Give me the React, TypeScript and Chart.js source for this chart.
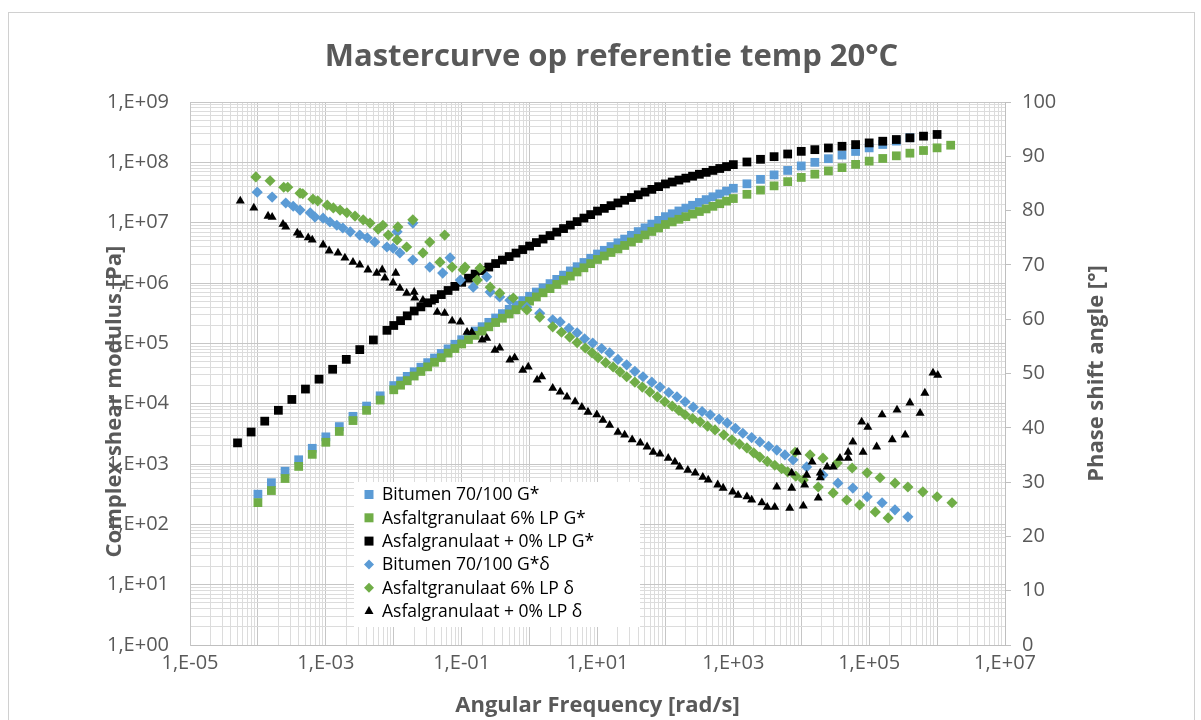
import React, { useEffect, useRef } from 'react';
import { Chart, registerables } from 'chart.js';

Chart.register(...registerables);

const FONT = '"Open Sans", "Liberation Sans", sans-serif';
const GREY = '#595959';
const BLUE = '#5B9BD5';
const GREEN = '#70AD47';
const BLACK = '#000000';

const chartTitle = 'Mastercurve op referentie temp 20°C';
const xAxisTitle = 'Angular Frequency [rad/s]';
const leftAxisTitle = 'Complex shear modulus [Pa]';
const rightAxisTitle = 'Phase shift angle [°]';

const seriesLabels = [
  'Bitumen 70/100 G*',
  'Asfaltgranulaat 6% LP G*',
  'Asfalgranulaat + 0% LP G*',
  'Bitumen 70/100 G*δ',
  'Asfaltgranulaat 6% LP δ',
  'Asfalgranulaat + 0% LP δ',
];

const xTickLabels = ['1,E-05', '1,E-03', '1,E-01', '1,E+01', '1,E+03', '1,E+05', '1,E+07'];
const yTickLabels = ['1,E+00', '1,E+01', '1,E+02', '1,E+03', '1,E+04', '1,E+05', '1,E+06', '1,E+07', '1,E+08', '1,E+09'];
const y1TickValues = [0, 10, 20, 30, 40, 50, 60, 70, 80, 90, 100];

// angular frequency [rad/s] for the two G* mastercurves
const gStarFreq = [
  1e-4, 1.58e-4, 2.51e-4, 3.98e-4, 6.31e-4, 1e-3, 1.58e-3, 2.51e-3, 3.98e-3, 6.31e-3,
  0.01, 0.0126, 0.0158, 0.02, 0.0251, 0.0316, 0.0398, 0.0501, 0.0631, 0.0794,
  0.1, 0.126, 0.158, 0.2, 0.251, 0.316, 0.398, 0.501, 0.631, 0.794,
  1, 1.26, 1.58, 2, 2.51, 3.16, 3.98, 5.01, 6.31, 7.94,
  10, 12.6, 15.8, 20, 25.1, 31.6, 39.8, 50.1, 63.1, 79.4,
  100, 126, 158, 200, 251, 316, 398, 501, 631, 794,
  1000, 1585, 2512, 3981, 6310, 1e4, 1.585e4, 2.512e4, 3.981e4, 6.31e4,
  1e5, 1.585e5, 2.512e5, 3.981e5, 6.31e5, 1e6, 1.585e6,
];

const bitumenGStar = [
  316, 490, 759, 1175, 1820, 2818, 4169, 6166, 9120, 13490,
  19950, 23770, 28310, 33730, 40180, 47860, 57020, 67920, 80910, 96380,
  114800, 135500, 160000, 188800, 222800, 263000, 310500, 366400, 432500, 510500,
  602600, 707900, 831800, 977200, 1.148e6, 1.349e6, 1.585e6, 1.862e6, 2.188e6, 2.57e6,
  3.02e6, 3.483e6, 4.018e6, 4.634e6, 5.346e6, 6.166e6, 7.112e6, 8.204e6, 9.462e6, 1.091e7,
  1.259e7, 1.403e7, 1.563e7, 1.742e7, 1.941e7, 2.163e7, 2.41e7, 2.685e7, 2.992e7, 3.334e7,
  3.715e7, 4.406e7, 5.224e7, 6.194e7, 7.345e7, 8.71e7, 1.0e8, 1.148e8, 1.318e8, 1.514e8,
  1.738e8, 1.977e8, 2.249e8, 2.559e8,
];

const asfalt6GStar = [
  229, 363, 575, 912, 1445, 2291, 3467, 5248, 7762, 11480,
  16980, 20230, 24100, 28710, 34200, 40740, 48530, 57810, 68870, 82040,
  97720, 115100, 135500, 159600, 187900, 221300, 260600, 306900, 361400, 425600,
  501200, 587500, 688700, 807200, 946200, 1.109e6, 1.3e6, 1.524e6, 1.786e6, 2.094e6,
  2.455e6, 2.805e6, 3.206e6, 3.664e6, 4.188e6, 4.786e6, 5.47e6, 6.252e6, 7.145e6, 8.166e6,
  9.333e6, 1.03e7, 1.138e7, 1.256e7, 1.387e7, 1.531e7, 1.69e7, 1.866e7, 2.061e7, 2.275e7,
  2.512e7, 2.951e7, 3.467e7, 4.074e7, 4.786e7, 5.623e7, 6.368e7, 7.211e7, 8.166e7, 9.247e7,
  1.047e8, 1.159e8, 1.282e8, 1.419e8, 1.57e8, 1.738e8, 1.923e8,
];

const asfalt0Freq = [
  5.01e-5, 7.94e-5, 1.26e-4, 2.0e-4, 3.16e-4, 5.01e-4, 7.94e-4, 1.26e-3, 2.0e-3, 3.16e-3, 5.01e-3, 7.94e-3,
  0.01, 0.0126, 0.0158, 0.02, 0.0251, 0.0316, 0.0398, 0.0501, 0.0631, 0.0794,
  0.1, 0.126, 0.158, 0.2, 0.251, 0.316, 0.398, 0.501, 0.631, 0.794,
  1, 1.26, 1.58, 2, 2.51, 3.16, 3.98, 5.01, 6.31, 7.94,
  10, 12.6, 15.8, 20, 25.1, 31.6, 39.8, 50.1, 63.1, 79.4,
  100, 126, 158, 200, 251, 316, 398, 501, 631, 794,
  1000, 1585, 2512, 3981, 6310, 1e4, 1.585e4, 2.512e4, 3.981e4, 6.31e4,
  1e5, 1.585e5, 2.512e5, 3.981e5, 6.31e5, 1e6,
];

const asfalt0GStar = [
  2239, 3388, 5129, 7762, 11750, 17460, 25470, 37150, 54200, 78700, 113800, 164400,
  197700, 237700, 285800, 343600, 401800, 469900, 549500, 642700, 751600, 879000,
  1.028e6, 1.202e6, 1.406e6, 1.607e6, 1.837e6, 2.099e6, 2.399e6, 2.742e6, 3.133e6, 3.581e6,
  4.093e6, 4.677e6, 5.346e6, 6.109e6, 6.982e6, 7.98e6, 9.12e6, 1.042e7, 1.191e7, 1.361e7,
  1.556e7, 1.726e7, 1.914e7, 2.123e7, 2.355e7, 2.612e7, 2.897e7, 3.214e7, 3.565e7, 3.954e7,
  4.385e7, 4.721e7, 5.082e7, 5.47e7, 5.888e7, 6.339e7, 6.823e7, 7.345e7, 7.907e7, 8.511e7,
  9.162e7, 1.014e8, 1.122e8, 1.242e8, 1.374e8, 1.521e8, 1.622e8, 1.73e8, 1.845e8, 1.968e8,
  2.099e8, 2.239e8, 2.388e8, 2.547e8, 2.716e8, 2.897e8,
];

const bitumenDeltaFreq = [
  9.77e-5, 1.62e-4, 2.57e-4, 4.17e-4, 6.92e-4, 1.15e-3, 1.78e-3, 3.16e-3, 5.25e-3, 7.94e-3,
  1.23e-2, 1.91e-2, 3.39e-2, 5.25e-2, 9.55e-2, 0.148, 0.263, 0.363, 0.513, 0.912,
  1.41, 2.19, 2.82, 5.01, 8.51, 15.1, 26.9, 46.8, 83.2, 148,
  257, 457, 813, 1380, 2455, 4365, 7586, 12020, 20890, 34670,
  57540, 93330, 154900, 239900, 371500,
  0.0112, 0.0191, 0.0676, 0.234,
  3.31e-4, 5.89e-4, 9.12e-4, 1.45e-3, 2.29e-3, 4.07e-3, 9.77e-3,
  3.8, 6.46, 11.5, 20.0, 35.5, 63.1, 112, 195, 347, 617, 1072, 1862, 3311, 5754,
];
const bitumenDelta = [
  83.4, 82.5, 81.4, 80.1, 78.8, 77.9, 76.8, 75.5, 74.2, 73.3,
  72.2, 70.9, 69.6, 68.5, 67.2, 65.9, 65.0, 64.1, 63.5, 62.2,
  61.1, 59.9, 59.5, 57.5, 55.6, 53.8, 51.6, 49.4, 47.5, 45.7,
  43.8, 42.4, 40.9, 39.0, 37.4, 35.9, 34.1, 32.8, 31.3, 29.8,
  28.9, 27.3, 26.2, 24.9, 23.6,
  76.1, 77.7, 71.3, 67.8,
  80.8, 79.6, 78.6, 77.3, 76.1, 75.0, 73.1,
  58.3, 56.4, 54.6, 52.6, 50.4, 48.4, 46.5, 44.8, 43.0, 41.6, 39.9, 38.2, 36.6, 35.0,
];

const asfalt6DeltaFreq = [
  9.33e-5, 1.51e-4, 2.4e-4, 2.75e-4, 4.17e-4, 6.46e-4, 1.05e-3, 1.62e-3, 2.69e-3, 4.47e-3,
  8.32e-3, 1.12e-2, 1.55e-2, 2.69e-2, 4.79e-2, 7.24e-2, 0.105, 0.17, 0.263, 0.363,
  0.575, 0.912, 1.41, 2.19, 3.89, 6.61, 10.2, 17.0, 26.9, 45.7,
  75.9, 126, 195, 324, 537, 955, 1585, 2455, 4074, 6310,
  10720, 17780, 29510, 46770, 72440, 123000, 190500,
  8128, 13490, 20890, 33880, 56230, 93330, 144500, 239900, 371500, 616600, 1e6, 1.66e6,
  6.92e-3, 1.15e-2, 1.91e-2, 5.62e-2, 3.39e-2, 0.112, 0.186,
  4.57e-4, 7.59e-4, 1.29e-3, 2.04e-3, 3.55e-3, 5.89e-3,
  2.95, 5.01, 8.32, 13.2, 21.4, 35.5, 58.9, 97.7, 158, 251, 417, 724, 1230, 1995, 3162, 5129, 8318,
];
const asfalt6Delta = [
  86.2, 85.5, 84.3, 84.3, 83.2, 82.1, 81.0, 80.1, 79.0, 77.7,
  75.5, 74.6, 73.3, 72.2, 70.5, 69.6, 69.1, 67.2, 65.9, 64.8,
  63.9, 61.7, 60.4, 58.6, 56.7, 54.7, 52.9, 51.2, 49.4, 47.5,
  45.7, 44.0, 42.4, 41.1, 39.6, 37.8, 36.3, 34.6, 33.1, 31.9,
  30.4, 29.1, 28.0, 26.7, 25.8, 24.5, 23.4,
  35.5, 35.0, 34.4, 33.5, 32.6, 31.7, 30.8, 29.8, 29.1, 28.2, 27.3, 26.2,
  77.3, 77.0, 78.3, 75.5, 74.2, 69.6, 69.4,
  83.1, 81.8, 80.5, 79.6, 78.3, 76.6,
  57.6, 55.7, 53.8, 52.0, 50.3, 48.4, 46.6, 44.8, 43.2, 41.7, 40.3, 38.7, 37.0, 35.4, 33.8, 32.5, 31.1,
];

const asfalt0DeltaFreq = [
  5.5e-5, 8.71e-5, 1.41e-4, 1.62e-4, 2.34e-4, 2.57e-4, 3.8e-4, 4.17e-4, 5.5e-4, 6.31e-4,
  9.12e-4, 1.12e-3, 1.51e-3, 1.91e-3, 2.51e-3, 3.16e-3, 4.17e-3, 5.62e-3, 7.41e-3, 9.77e-3,
  1.23e-2, 1.55e-2, 2.04e-2, 2.69e-2, 3.63e-2, 4.37e-2, 5.62e-2, 7.24e-2, 9.55e-2, 0.12,
  0.141, 0.2, 0.234, 0.309, 0.363, 0.513, 0.603, 0.794, 0.955, 1.29,
  1.51, 2.19, 2.82, 3.55, 4.68, 5.89, 7.24, 9.77, 12.0, 15.1,
  20.0, 25.1, 32.4, 42.7, 53.7, 66.1, 83.2, 110, 138, 162,
  214, 275, 355, 427, 589, 708, 977, 1175, 1585, 1862,
  2630, 3162, 4074, 6761, 10720, 17780, 4365, 7244, 11220, 7244,
  12020, 19050, 19050, 8710, 14450, 23990, 29510, 37150, 48980, 48980,
  81280, 57540, 128800, 77620, 95500, 154900, 218800, 257000, 338800, 398100,
  562300, 660700, 871000, 1.023e6,
  6.76e-3, 1.07e-2, 2.0e-2,
];
const asfalt0Delta = [
  81.8, 80.5, 79.0, 78.8, 77.5, 77.0, 75.9, 75.5, 75.0, 74.6,
  73.7, 72.6, 72.2, 71.3, 70.5, 70.0, 69.1, 68.5, 67.6, 66.7,
  65.7, 64.8, 63.9, 63.5, 63.2, 61.3, 61.1, 59.7, 59.5, 57.6,
  57.6, 56.2, 56.5, 54.3, 54.7, 52.5, 52.9, 50.6, 51.2, 48.8,
  49.4, 47.3, 46.6, 45.7, 44.8, 43.8, 42.9, 42.4, 41.4, 40.5,
  39.2, 38.7, 37.8, 37.2, 36.5, 35.5, 35.2, 34.4, 33.7, 32.8,
  32.2, 31.7, 30.9, 30.4, 29.5, 28.9, 28.2, 27.6, 27.3, 26.7,
  26.2, 25.4, 25.4, 25.2, 25.6, 27.1, 29.1, 28.9, 29.5, 31.7,
  31.3, 30.8, 31.7, 35.5, 33.7, 32.8, 32.8, 34.4, 34.4, 35.5,
  35.5, 37.4, 36.5, 41.1, 40.1, 42.4, 37.8, 43.3, 38.7, 44.6,
  42.7, 46.4, 50.1, 49.7,
  69.1, 68.5, 65.0,
];

const toPoints = (xs: number[], ys: number[]) => ys.map((y, i) => ({ x: xs[i], y }));

const expLabel = (e: number) => `1,E${e < 0 ? '-' : '+'}${String(Math.abs(e)).padStart(2, '0')}`;

const decadeExp = (v: number): number | null => {
  const e = Math.round(Math.log10(v));
  return Math.abs(v / Math.pow(10, e) - 1) < 1e-6 ? e : null;
};

const logTicks = (fromExp: number, toExp: number) => {
  const t: { value: number }[] = [];
  for (let e = fromExp; e < toExp; e++) {
    for (let m = 1; m < 10; m++) t.push({ value: m * Math.pow(10, e) });
  }
  t.push({ value: Math.pow(10, toExp) });
  return t;
};

const gridColor = (ctx: any) => {
  const v = ctx && ctx.tick ? ctx.tick.value : null;
  if (v == null) return '#D9D9D9';
  return decadeExp(v) !== null ? '#C6C6C6' : '#DCDCDC';
};

const drawMarker = (ctx: CanvasRenderingContext2D, style: string, x: number, y: number, color: string) => {
  ctx.fillStyle = color;
  ctx.beginPath();
  if (style === 'rect') {
    ctx.rect(x - 4.5, y - 4.5, 9, 9);
  } else if (style === 'rectRot') {
    ctx.moveTo(x - 5, y);
    ctx.lineTo(x, y - 5);
    ctx.lineTo(x + 5, y);
    ctx.lineTo(x, y + 5);
    ctx.closePath();
  } else {
    ctx.moveTo(x, y - 5);
    ctx.lineTo(x + 4.5, y + 3);
    ctx.lineTo(x - 4.5, y + 3);
    ctx.closePath();
  }
  ctx.fill();
};

const AXIS_TITLE_FONT = `bold 22px ${FONT}`;

const framePlugin = {
  id: 'frame',
  beforeDraw(chart: any) {
    const { ctx, width, height } = chart;
    ctx.save();
    ctx.fillStyle = '#FFFFFF';
    ctx.fillRect(0, 0, width, height);
    ctx.strokeStyle = '#D0D0D0';
    ctx.lineWidth = 1;
    ctx.strokeRect(8.5, 12.5, 1186, height);
    ctx.restore();
  },
};

// vertical axis titles, both reading bottom-to-top as in the reference
const sideTitlesPlugin = {
  id: 'sideTitles',
  afterDraw(chart: any) {
    const { ctx, chartArea } = chart;
    const mid = (chartArea.top + chartArea.bottom) / 2;
    ctx.save();
    ctx.font = AXIS_TITLE_FONT;
    ctx.fillStyle = GREY;
    ctx.textAlign = 'center';
    ctx.textBaseline = 'middle';
    ctx.save();
    ctx.translate(chartArea.left - 75, mid + 28);
    ctx.rotate(-Math.PI / 2);
    ctx.fillText(leftAxisTitle, 0, 0);
    ctx.restore();
    ctx.save();
    ctx.translate(chartArea.right + 92, mid);
    ctx.rotate(-Math.PI / 2);
    ctx.fillText(rightAxisTitle, 0, 0);
    ctx.restore();
    ctx.restore();
  },
};

const insideLegendPlugin = {
  id: 'insideLegend',
  afterDraw(chart: any) {
    const { ctx, chartArea } = chart;
    const bx = chartArea.left + 164;
    const by = chartArea.top + 380;
    const bw = 286;
    const bh = 145;
    ctx.save();
    ctx.fillStyle = '#FFFFFF';
    ctx.fillRect(bx, by, bw, bh);
    ctx.font = `17.5px ${FONT}`;
    ctx.textAlign = 'left';
    ctx.textBaseline = 'middle';
    chart.data.datasets.forEach((ds: any, i: number) => {
      const y = by + 12.5 + i * 23.3;
      drawMarker(ctx, ds.pointStyle, bx + 15, y, ds.backgroundColor);
      ctx.fillStyle = '#000000';
      ctx.fillText(ds.label, bx + 28, y + 1);
    });
    ctx.restore();
  },
};

export default function App() {
  const canvasRef = useRef<HTMLCanvasElement | null>(null);

  useEffect(() => {
    if (!canvasRef.current) return;
    const tickFont = { family: FONT, size: 20 };
    const titleFont = { family: FONT, size: 22, weight: 'bold' as const };

    const chart = new Chart(canvasRef.current, {
      type: 'scatter',
      data: {
        datasets: [
          {
            label: seriesLabels[0], data: toPoints(gStarFreq, bitumenGStar), yAxisID: 'y',
            pointStyle: 'rect', pointRadius: 6.2, backgroundColor: BLUE, borderColor: BLUE, borderWidth: 0, order: 6,
          },
          {
            label: seriesLabels[1], data: toPoints(gStarFreq, asfalt6GStar), yAxisID: 'y',
            pointStyle: 'rect', pointRadius: 6.2, backgroundColor: GREEN, borderColor: GREEN, borderWidth: 0, order: 5,
          },
          {
            label: seriesLabels[2], data: toPoints(asfalt0Freq, asfalt0GStar), yAxisID: 'y',
            pointStyle: 'rect', pointRadius: 6.2, backgroundColor: BLACK, borderColor: BLACK, borderWidth: 0, order: 4,
          },
          {
            label: seriesLabels[3], data: toPoints(bitumenDeltaFreq, bitumenDelta), yAxisID: 'y1',
            pointStyle: 'rectRot', pointRadius: 5.6, backgroundColor: BLUE, borderColor: BLUE, borderWidth: 0, order: 3,
          },
          {
            label: seriesLabels[4], data: toPoints(asfalt6DeltaFreq, asfalt6Delta), yAxisID: 'y1',
            pointStyle: 'rectRot', pointRadius: 5.6, backgroundColor: GREEN, borderColor: GREEN, borderWidth: 0, order: 2,
          },
          {
            label: seriesLabels[5], data: toPoints(asfalt0DeltaFreq, asfalt0Delta), yAxisID: 'y1',
            pointStyle: 'triangle', pointRadius: 5.2, backgroundColor: BLACK, borderColor: BLACK, borderWidth: 0, order: 1,
          },
        ] as any,
      },
      options: {
        animation: false,
        responsive: false,
        layout: { padding: { left: 22, right: 0, top: 0, bottom: 0 } },
        plugins: {
          legend: { display: false },
          tooltip: { enabled: false },
          title: {
            display: true,
            text: chartTitle,
            color: GREY,
            font: { family: FONT, size: 31, weight: 'bold' },
            padding: { top: 39, bottom: 25.8 },
          },
        },
        scales: {
          x: {
            type: 'logarithmic',
            position: 'bottom',
            min: 1e-5,
            max: 1e7,
            afterBuildTicks: (scale: any) => { scale.ticks = logTicks(-5, 7); },
            afterFit: (scale: any) => { scale.height = 75; },
            ticks: {
              autoSkip: false,
              maxRotation: 0,
              padding: 6,
              color: GREY,
              font: tickFont,
              callback: (value: any) => {
                const e = decadeExp(Number(value));
                if (e === null) return '';
                const l = expLabel(e);
                return xTickLabels.includes(l) ? l : '';
              },
            },
            grid: { color: gridColor, lineWidth: 1, drawTicks: false },
            border: { display: true, color: '#BFBFBF' },
            title: { display: true, text: xAxisTitle, color: GREY, font: titleFont, padding: { top: 0, bottom: 1 } },
          },
          y: {
            type: 'logarithmic',
            position: 'left',
            min: 1,
            max: 1e9,
            afterBuildTicks: (scale: any) => { scale.ticks = logTicks(0, 9); },
            afterFit: (scale: any) => { scale.width = 168; },
            ticks: {
              autoSkip: false,
              padding: 21,
              color: GREY,
              font: tickFont,
              callback: (value: any) => {
                const e = decadeExp(Number(value));
                if (e === null) return '';
                const l = expLabel(e);
                return yTickLabels.includes(l) ? l : '';
              },
            },
            grid: { color: gridColor, lineWidth: 1, drawTicks: false },
            border: { display: true, color: '#C6C6C6' },
            title: { display: false, text: leftAxisTitle },
          },
          y1: {
            type: 'linear',
            position: 'right',
            min: 0,
            max: 100,
            afterBuildTicks: (scale: any) => { scale.ticks = y1TickValues.map((v) => ({ value: v })); },
            afterFit: (scale: any) => { scale.width = 196; },
            ticks: { padding: 11, color: GREY, font: tickFont, autoSkip: false },
            grid: { drawOnChartArea: false, drawTicks: true, tickLength: 6, color: '#BFBFBF' },
            border: { display: true, color: '#BFBFBF' },
            title: { display: false, text: rightAxisTitle },
          },
        },
      } as any,
      plugins: [framePlugin, sideTitlesPlugin, insideLegendPlugin],
    });
    return () => chart.destroy();
  }, []);

  return (
    <canvas
      ref={canvasRef}
      width={1201}
      height={720}
      style={{ position: 'fixed', left: 0, top: 0, width: 1201, height: 720 }}
    />
  );
}
